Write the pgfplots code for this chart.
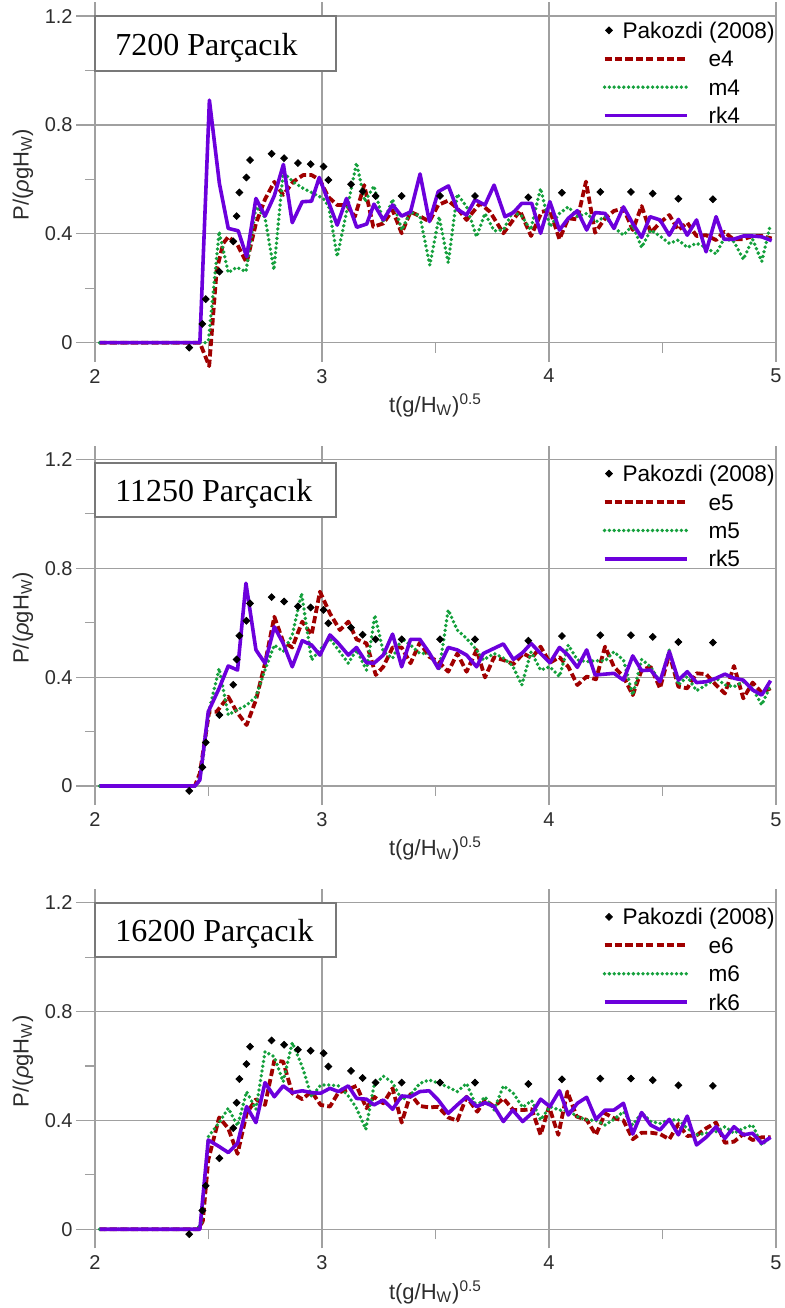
\documentclass[border=0pt]{standalone}
\usepackage{fontspec}
\setmainfont{Liberation Sans}
\newfontfamily\timesfont{Liberation Serif}
\usepackage{pgfplots}
\usepackage{pgfplotstable}
\pgfplotsset{compat=1.18}
\definecolor{cpur}{RGB}{108,0,220}
\definecolor{cred}{RGB}{160,0,0}
\definecolor{cgrn}{RGB}{20,160,60}
\definecolor{cgrid}{RGB}{160,160,160}
\definecolor{ctick}{RGB}{45,45,45}
\definecolor{cbox}{RGB}{120,120,120}

\pgfplotstableread{
x y
2.415 -0.018
2.473 0.069
2.488 0.160
2.548 0.261
2.609 0.372
2.624 0.465
2.636 0.552
2.667 0.607
2.683 0.671
2.778 0.694
2.833 0.678
2.894 0.660
2.950 0.656
3.007 0.647
3.028 0.598
3.128 0.582
3.179 0.556
3.236 0.539
3.351 0.539
3.520 0.539
3.674 0.539
3.909 0.534
4.057 0.551
4.226 0.554
4.361 0.554
4.457 0.548
4.570 0.529
4.722 0.527
}\pakozdi

\pgfplotsset{
 panel/.style={
  scale only axis, width=340.5pt, height=170.1pt,
  xmin=2, xmax=5, ymin=0, ymax=1.25,
  axis lines=left, axis line style={-, draw=cgrid, line width=0.6pt},
  xtick={2,3,4,5}, xticklabels={2,3,4,5},
  ytick={0,0.4,0.8,1.2}, yticklabels={0,0.4,0.8,1.2},
  minor tick num=1,
  tick align=outside,
  major tick length=9.5pt, minor tick length=5pt,
  tick style={draw=cgrid, line width=0.6pt},
  grid=major, major grid style={draw=cgrid, line width=0.6pt},
  tick label style={font=\fontsize{10}{12}\selectfont, text=ctick},
  xticklabel style={inner sep=0pt, yshift=-3.5pt},
  yticklabel style={inner sep=0pt, xshift=-1.5pt},
  clip=false,
  xlabel={t(g/H\textsubscript{W})\textsuperscript{0.5}},
  ylabel={P/(\textit{ρ}gH\textsubscript{W})},
  label style={font=\fontsize{11}{13}\selectfont, text=ctick},
  xlabel style={at={(axis description cs:0.5,-0.205)}, anchor=base},
  ylabel style={at={(axis description cs:-0.1057,0.494)}, anchor=center},
  legend cell align=left,
  legend style={draw=none, fill=none, inner sep=0pt, outer sep=0pt,
    row sep=3.2pt, column sep=0pt,
    at={(rel axis cs:0.7455,0.9446)}, anchor=north west,
    font=\fontsize{11.3}{13}\selectfont,
    nodes={inner sep=0pt, anchor=base west, text height=8.5pt, text depth=2.5pt}},
  legend image code/.code={\path[draw=none,fill=none] (0pt,4pt) -- (52pt,4pt); \draw[##1] (0pt,4pt) -- (41pt,4pt);},
 },
 pak/.style={only marks, mark=square*, mark size=1.2pt, mark options={rotate=45}, black,
   legend image code/.code={\path[draw=none,fill=none] (0pt,4pt) -- (52pt,4pt); \draw[##1] plot coordinates {(2.2pt,4pt)};}},
 eser/.style={cred, line width=1.9pt, dash pattern=on 3.6pt off 1.6pt, line join=round},
 mser/.style={cgrn, line width=1.9pt, dash pattern=on 0pt off 2.4pt, line cap=round, line join=round},
 rser/.style={cpur, line width=1.8pt, line join=round},
}

\newcommand{\titlebox}[3]{%
 \draw[cbox, line width=1pt, fill=white] (axis cs:2,#2) rectangle (axis cs:3.062,#2+0.2);
 \node[anchor=base west, inner sep=0pt, font=\timesfont\fontsize{16}{18}\selectfont] at (axis cs:2.088,#3) {#1};
}

\begin{document}
\begin{tikzpicture}
\path[use as bounding box] (0,0) rectangle (392pt,654pt);

% ---------------- panel 1 ----------------
\begin{axis}[panel, at={(47.5pt,482.65pt)}, anchor=south west]
\addplot[pak] table {\pakozdi};
\addlegendentry{\hspace*{-43pt}Pakozdi (2008)}
\addplot[eser] coordinates {
(2.02,0) (2.462,0) (2.503,-0.086) (2.536,0.267) (2.565,0.365) (2.587,0.389) (2.624,0.365) (2.668,0.294)
(2.709,0.438) (2.749,0.527) (2.790,0.591) (2.829,0.543) (2.873,0.591) (2.917,0.616) (2.954,0.616)
(2.991,0.598) (3.027,0.536) (3.067,0.506) (3.108,0.506) (3.145,0.463) (3.186,0.579) (3.226,0.426)
(3.270,0.438) (3.311,0.487) (3.351,0.402) (3.390,0.481) (3.431,0.465) (3.473,0.445) (3.512,0.506)
(3.556,0.522) (3.596,0.494) (3.637,0.451) (3.696,0.512) (3.740,0.481) (3.799,0.402) (3.872,0.485)
(3.921,0.392) (3.968,0.481) (4.004,0.487) (4.046,0.380) (4.085,0.457) (4.125,0.453) (4.163,0.592)
(4.203,0.404) (4.247,0.457) (4.286,0.484) (4.328,0.494) (4.369,0.414) (4.408,0.502) (4.448,0.404)
(4.489,0.441) (4.530,0.469) (4.570,0.414) (4.609,0.441) (4.650,0.392) (4.692,0.395) (4.736,0.377)
(4.771,0.408) (4.812,0.380) (4.856,0.380) (4.897,0.392) (4.937,0.392) (4.981,0.383)};
\addlegendentry{e4}
\addplot[mser] coordinates {
(2.02,0) (2.49,0) (2.50,0.01) (2.547,0.408) (2.587,0.257) (2.624,0.277) (2.665,0.261) (2.709,0.500)
(2.749,0.460) (2.788,0.267) (2.829,0.625) (2.873,0.591) (2.917,0.567) (2.961,0.549) (3.005,0.530)
(3.030,0.500) (3.067,0.316) (3.108,0.480) (3.152,0.661) (3.189,0.518) (3.229,0.576) (3.270,0.441)
(3.311,0.527) (3.351,0.414) (3.390,0.481) (3.431,0.465) (3.475,0.285) (3.516,0.463) (3.556,0.294)
(3.596,0.546) (3.637,0.500) (3.681,0.389) (3.718,0.475) (3.758,0.411) (3.799,0.414) (3.840,0.481)
(3.880,0.465) (3.919,0.414) (3.963,0.567) (4.004,0.426) (4.046,0.475) (4.085,0.499) (4.125,0.463)
(4.166,0.475) (4.207,0.444) (4.247,0.463) (4.286,0.424) (4.328,0.395) (4.369,0.432) (4.408,0.350)
(4.448,0.414) (4.489,0.392) (4.530,0.365) (4.570,0.377) (4.609,0.350) (4.650,0.365) (4.692,0.350)
(4.736,0.326) (4.771,0.383) (4.815,0.371) (4.856,0.306) (4.897,0.380) (4.937,0.298) (4.974,0.429)};
\addlegendentry{m4}
\addplot[rser] coordinates {
(2.02,0) (2.462,0) (2.504,0.891) (2.548,0.585) (2.587,0.420) (2.631,0.411) (2.668,0.316) (2.709,0.530)
(2.749,0.465) (2.790,0.540) (2.830,0.655) (2.869,0.441) (2.913,0.518) (2.954,0.520) (2.988,0.607)
(3.067,0.432) (3.108,0.530) (3.153,0.424) (3.197,0.436) (3.229,0.509) (3.270,0.451) (3.311,0.506)
(3.351,0.465) (3.390,0.481) (3.432,0.620) (3.473,0.445) (3.512,0.555) (3.557,0.576) (3.596,0.490)
(3.637,0.469) (3.674,0.525) (3.718,0.506) (3.758,0.579) (3.806,0.463) (3.843,0.478) (3.880,0.512)
(3.924,0.512) (3.963,0.402) (4.004,0.518) (4.046,0.414) (4.085,0.457) (4.125,0.485) (4.166,0.414)
(4.203,0.478) (4.247,0.475) (4.286,0.420) (4.328,0.499) (4.369,0.438) (4.408,0.387) (4.445,0.463)
(4.489,0.451) (4.530,0.395) (4.570,0.453) (4.609,0.395) (4.650,0.451) (4.692,0.334) (4.736,0.463)
(4.771,0.380) (4.812,0.380) (4.856,0.392) (4.897,0.392) (4.937,0.389) (4.981,0.375)};
\addlegendentry{rk4}
\titlebox{7200 Parçacık}{1.0}{1.057}
\end{axis}

% ---------------- panel 2 ----------------
\begin{axis}[panel, at={(47.5pt,261pt)}, anchor=south west]
\addplot[pak] table {\pakozdi};
\addlegendentry{\hspace*{-43pt}Pakozdi (2008)}
\addplot[eser] coordinates {
(2.02,0) (2.44,0) (2.462,0.047) (2.503,0.273) (2.536,0.273) (2.587,0.328) (2.624,0.273) (2.668,0.224)
(2.709,0.316) (2.749,0.451) (2.790,0.622) (2.829,0.530) (2.869,0.509) (2.913,0.604) (2.954,0.555)
(2.991,0.714) (3.035,0.634) (3.079,0.573) (3.116,0.604) (3.152,0.539) (3.196,0.524) (3.237,0.408)
(3.270,0.438) (3.311,0.509) (3.351,0.509) (3.390,0.451) (3.431,0.527) (3.472,0.475) (3.512,0.457)
(3.556,0.420) (3.596,0.487) (3.637,0.420) (3.681,0.500) (3.718,0.399) (3.758,0.473) (3.799,0.463)
(3.843,0.448) (3.887,0.487) (3.924,0.470) (3.963,0.512) (4.004,0.453) (4.046,0.473) (4.085,0.438)
(4.125,0.371) (4.166,0.402) (4.207,0.392) (4.247,0.512) (4.286,0.438) (4.328,0.402) (4.369,0.334)
(4.408,0.426) (4.448,0.438) (4.489,0.359) (4.530,0.485) (4.570,0.365) (4.609,0.359) (4.650,0.414)
(4.692,0.411) (4.736,0.371) (4.775,0.340) (4.815,0.441) (4.856,0.322) (4.897,0.380) (4.937,0.343)
(4.976,0.359)};
\addlegendentry{e5}
\addplot[mser] coordinates {
(2.02,0) (2.45,0) (2.469,0.059) (2.503,0.279) (2.547,0.432) (2.587,0.261) (2.624,0.279) (2.668,0.297)
(2.709,0.328) (2.749,0.426) (2.790,0.518) (2.829,0.494) (2.869,0.555) (2.910,0.708) (2.954,0.463)
(2.991,0.500) (3.035,0.542) (3.072,0.500) (3.116,0.451) (3.152,0.500) (3.196,0.426) (3.233,0.628)
(3.270,0.494) (3.311,0.469) (3.351,0.542) (3.390,0.518) (3.431,0.487) (3.472,0.487) (3.517,0.432)
(3.556,0.647) (3.596,0.573) (3.637,0.542) (3.681,0.500) (3.711,0.463) (3.758,0.487) (3.799,0.470)
(3.840,0.441) (3.880,0.371) (3.921,0.493) (3.963,0.426) (4.004,0.438) (4.046,0.402) (4.085,0.518)
(4.125,0.463) (4.166,0.457) (4.207,0.460) (4.247,0.460) (4.286,0.493) (4.328,0.463) (4.369,0.334)
(4.408,0.465) (4.448,0.438) (4.489,0.383) (4.530,0.500) (4.570,0.371) (4.609,0.402) (4.650,0.350)
(4.692,0.371) (4.736,0.396) (4.775,0.371) (4.815,0.365) (4.856,0.383) (4.897,0.359) (4.937,0.298)
(4.974,0.365)};
\addlegendentry{m5}
\addplot[rser] coordinates {
(2.02,0) (2.44,0) (2.462,0.022) (2.499,0.273) (2.547,0.359) (2.587,0.441) (2.628,0.426) (2.665,0.745)
(2.709,0.500) (2.749,0.451) (2.790,0.585) (2.829,0.524) (2.869,0.438) (2.913,0.534) (2.954,0.518)
(2.991,0.481) (3.035,0.555) (3.072,0.524) (3.116,0.481) (3.152,0.509) (3.196,0.453) (3.229,0.451)
(3.270,0.481) (3.311,0.558) (3.351,0.438) (3.390,0.539) (3.431,0.539) (3.472,0.490) (3.512,0.432)
(3.556,0.509) (3.596,0.500) (3.637,0.481) (3.681,0.438) (3.711,0.487) (3.799,0.522) (3.843,0.465)
(3.884,0.490) (3.921,0.524) (3.963,0.487) (4.004,0.453) (4.046,0.509) (4.085,0.480) (4.125,0.436)
(4.166,0.500) (4.203,0.408) (4.247,0.411) (4.286,0.414) (4.328,0.389) (4.369,0.478) (4.408,0.424)
(4.448,0.426) (4.489,0.383) (4.530,0.494) (4.570,0.389) (4.609,0.420) (4.650,0.380) (4.692,0.383)
(4.736,0.396) (4.775,0.411) (4.815,0.396) (4.856,0.389) (4.897,0.353) (4.937,0.334) (4.976,0.387)};
\addlegendentry{rk5}
\titlebox{11250 Parçacık}{0.988}{1.044}
\end{axis}

% ---------------- panel 3 ----------------
\begin{axis}[panel, at={(47.5pt,39.35pt)}, anchor=south west]
\addplot[pak] table {\pakozdi};
\addlegendentry{\hspace*{-43pt}Pakozdi (2008)}
\addplot[eser] coordinates {
(2.02,0) (2.455,0) (2.475,0.030) (2.499,0.255) (2.547,0.411) (2.587,0.371) (2.628,0.277) (2.668,0.426)
(2.709,0.478) (2.749,0.457) (2.790,0.620) (2.829,0.616) (2.869,0.500) (2.913,0.478) (2.954,0.506)
(2.994,0.457) (3.035,0.451) (3.072,0.502) (3.116,0.514) (3.152,0.527) (3.196,0.445) (3.229,0.487)
(3.270,0.463) (3.311,0.518) (3.351,0.392) (3.390,0.497) (3.431,0.453) (3.472,0.448) (3.512,0.450)
(3.556,0.411) (3.596,0.399) (3.637,0.487) (3.684,0.432) (3.718,0.475) (3.758,0.451) (3.799,0.481)
(3.843,0.438) (3.884,0.438) (3.924,0.441) (3.963,0.347) (4.000,0.451) (4.041,0.347) (4.081,0.506)
(4.122,0.414) (4.166,0.402) (4.207,0.347) (4.247,0.426) (4.286,0.408) (4.328,0.400) (4.369,0.331)
(4.408,0.355) (4.448,0.355) (4.489,0.350) (4.530,0.331) (4.570,0.387) (4.609,0.343) (4.650,0.345)
(4.692,0.371) (4.736,0.392) (4.775,0.318) (4.815,0.322) (4.856,0.350) (4.897,0.328) (4.937,0.338)
(4.976,0.338)};
\addlegendentry{e6}
\addplot[mser] coordinates {
(2.02,0) (2.45,0) (2.469,0.025) (2.499,0.340) (2.547,0.392) (2.587,0.445) (2.628,0.380) (2.668,0.506)
(2.709,0.441) (2.749,0.653) (2.790,0.634) (2.829,0.542) (2.869,0.686) (2.913,0.598) (2.954,0.487)
(2.994,0.530) (3.035,0.530) (3.072,0.527) (3.116,0.490) (3.152,0.445) (3.193,0.367) (3.229,0.527)
(3.270,0.563) (3.311,0.539) (3.351,0.475) (3.390,0.494) (3.431,0.536) (3.472,0.549) (3.517,0.536)
(3.556,0.522) (3.596,0.506) (3.637,0.536) (3.681,0.450) (3.718,0.487) (3.758,0.438) (3.799,0.527)
(3.843,0.500) (3.884,0.448) (3.924,0.473) (3.963,0.402) (4.004,0.451) (4.046,0.438) (4.085,0.436)
(4.125,0.414) (4.166,0.402) (4.207,0.400) (4.247,0.383) (4.286,0.404) (4.328,0.432) (4.369,0.383)
(4.408,0.429) (4.448,0.396) (4.489,0.389) (4.530,0.402) (4.570,0.402) (4.609,0.371) (4.650,0.347)
(4.692,0.353) (4.736,0.359) (4.775,0.377) (4.815,0.353) (4.856,0.371) (4.897,0.383) (4.937,0.310)
(4.976,0.338)};
\addlegendentry{m6}
\addplot[rser] coordinates {
(2.02,0) (2.462,0) (2.499,0.328) (2.547,0.304) (2.587,0.282) (2.628,0.316) (2.668,0.451) (2.709,0.392)
(2.749,0.539) (2.790,0.487) (2.829,0.527) (2.869,0.502) (2.913,0.509) (2.954,0.502) (2.994,0.500)
(3.035,0.518) (3.072,0.506) (3.116,0.527) (3.152,0.481) (3.196,0.478) (3.229,0.457) (3.270,0.475)
(3.311,0.441) (3.351,0.490) (3.390,0.487) (3.431,0.506) (3.472,0.509) (3.512,0.475) (3.556,0.426)
(3.596,0.457) (3.637,0.487) (3.681,0.451) (3.718,0.465) (3.758,0.451) (3.799,0.396) (3.840,0.438)
(3.884,0.396) (3.924,0.426) (3.963,0.478) (4.004,0.451) (4.046,0.509) (4.085,0.420) (4.125,0.463)
(4.166,0.485) (4.207,0.404) (4.247,0.438) (4.286,0.438) (4.328,0.463) (4.369,0.350) (4.408,0.429)
(4.448,0.383) (4.489,0.365) (4.530,0.404) (4.570,0.347) (4.609,0.416) (4.650,0.310) (4.692,0.338)
(4.736,0.377) (4.775,0.334) (4.815,0.377) (4.856,0.347) (4.897,0.353) (4.937,0.316) (4.976,0.338)};
\addlegendentry{rk6}
\titlebox{16200 Parçacık}{1.0}{1.057}
\end{axis}
\end{tikzpicture}
\end{document}
